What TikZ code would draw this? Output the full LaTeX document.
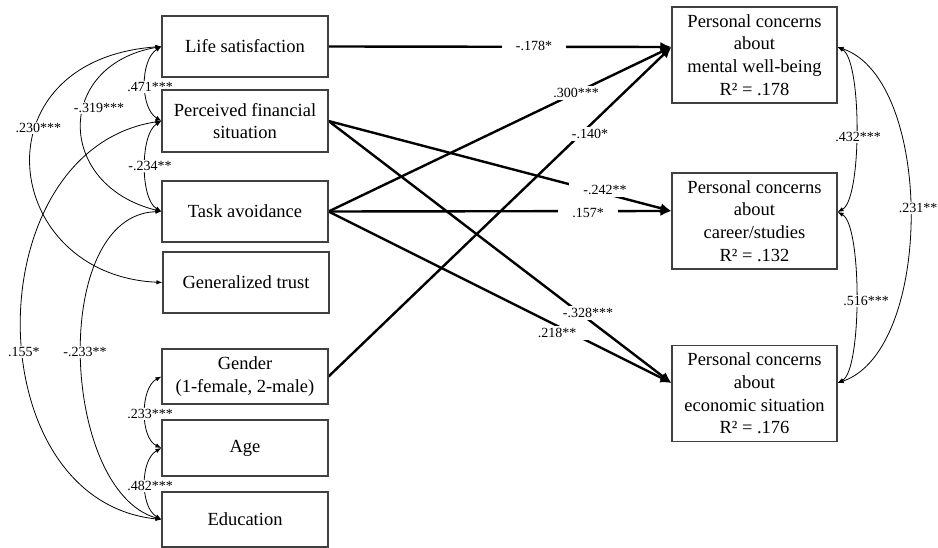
\documentclass[tikz,border=0pt]{standalone}
\usepackage{fontspec}
\setmainfont{Liberation Serif}
\usetikzlibrary{arrows.meta}
\definecolor{boxgray}{HTML}{404040}
\newcommand\boxfont{\fontsize{18.5}{22.7}\selectfont}
\newcommand\lblfont{\fontsize{14}{16}\selectfont}
\pgfdeclarelayer{lines}
\pgfdeclarelayer{boxes}
\pgfsetlayers{lines,main,boxes}
\tikzset{
  box/.style={draw=boxgray, line width=1.1pt, align=center, font=\boxfont, inner sep=0pt, minimum width=166pt},
  rbox/.style={box, minimum width=165pt, minimum height=96pt},
  pathline/.style={line width=2.4pt, -{Latex[length=11pt,width=10pt]}},
  corr/.style={line width=0.8pt, {Latex[length=6pt,width=4.5pt]}-{Latex[length=6pt,width=4.5pt]}},
  lbl/.style={fill=white, font=\lblfont, inner sep=1.2pt},
  plbl/.style={lbl, inner xsep=14pt, inner ysep=2pt}
}
\begin{document}
\begin{tikzpicture}[x=1pt,y=-1pt]
\useasboundingbox (0,0) rectangle (938,548);
\begin{pgfonlayer}{boxes}
\node[box, minimum height=61pt] (life) at (245,46.5) {Life satisfaction};
\node[box, minimum height=62pt] (pfs) at (245,121) {Perceived financial\\situation};
\node[box, minimum height=61pt] (task) at (245,211.5) {Task avoidance};
\node[box, minimum height=61pt] (trust) at (246,282.5) {Generalized trust};
\node[box, minimum height=55pt] (gender) at (245,376.5) {Gender\\(1-female, 2-male)};
\node[box, minimum height=56pt] (age) at (245,448) {Age};
\node[box, minimum height=55pt] (edu) at (245,519.5) {Education};
\node[rbox] (mental) at (754.5,55) {Personal concerns\\about\\mental well-being\\R² = .178};
\node[rbox] (career) at (754.5,221) {Personal concerns\\about\\career/studies\\R² = .132};
\node[rbox] (econ) at (754.5,393.5) {Personal concerns\\about\\economic situation\\R² = .176};
\end{pgfonlayer}
\coordinate (mIn) at ([yshift=8pt]mental.west);
\coordinate (cIn) at ([yshift=10pt]career.west);
\coordinate (eIn) at ([yshift=10.5pt]econ.west);
\coordinate (mOut) at ([yshift=8pt]mental.east);
\coordinate (cOut) at ([yshift=9pt]career.east);
\coordinate (eOut) at ([yshift=10.5pt]econ.east);
\begin{pgfonlayer}{lines}
\draw[pathline] (life.east) -- (mIn);
\draw[pathline] (task.east) -- (mIn);
\draw[pathline] (gender.east) -- (mIn);
\draw[pathline] (pfs.east) -- (cIn);
\draw[pathline] (task.east) -- (cIn);
\draw[pathline] (pfs.east) -- (eIn);
\draw[pathline] (task.east) -- (eIn);
\draw[corr] (life.west) .. controls (140,60) and (140,108) .. (pfs.west);
\draw[corr] (pfs.west) .. controls (140,134) and (140,199) .. (task.west);
\draw[corr] (life.west) .. controls (55,65) and (55,185) .. (task.west);
\draw[corr] (life.west) .. controls (-25,60) and (0,275) .. (trust.west);
\draw[corr] (pfs.west) .. controls (-25,150) and (-25,500) .. (edu.west);
\draw[corr] (task.west) .. controls (50,215) and (60,490) .. (edu.west);
\draw[corr] (gender.west) .. controls (140,388) and (140,438) .. (age.west);
\draw[corr] (age.west) .. controls (140,460) and (140,507) .. (edu.west);
\draw[corr] (mOut) .. controls (862,60) and (862,199) .. (cOut);
\draw[corr] (cOut) .. controls (862,225) and (862,370) .. (eOut);
\draw[corr] (mOut) .. controls (934,80) and (934,350) .. (eOut);
\end{pgfonlayer}
\node[plbl] (l1) at (534,46) {-.178*};
\node[plbl] (l2) at (576,93) {.300***};
\node[plbl] (l3) at (590,134) {-.140*};
\node[plbl] (l4) at (605,190) {-.242**};
\node[plbl] (l5) at (588,213) {.157*};
\node[plbl] (l6) at (588,313) {-.328***};
\node[plbl] (l7) at (557,333) {.218**};
\node[lbl] (c1) at (150,87) {.471***};
\node[lbl] (c2) at (150,166) {-.234**};
\node[lbl] (c3) at (99,108) {-.319***};
\node[lbl] (c4) at (38.5,128) {.230***};
\node[lbl] (c5) at (24,352) {.155*};
\node[lbl] (c6) at (85,352) {-.233**};
\node[lbl] (c7) at (150,414) {.233***};
\node[lbl] (c8) at (150,486) {.482***};
\node[lbl] (c9) at (858,137) {.432***};
\node[lbl] (c10) at (866,301) {.516***};
\node[lbl] (c11) at (918,208) {.231**};
\end{tikzpicture}
\end{document}
